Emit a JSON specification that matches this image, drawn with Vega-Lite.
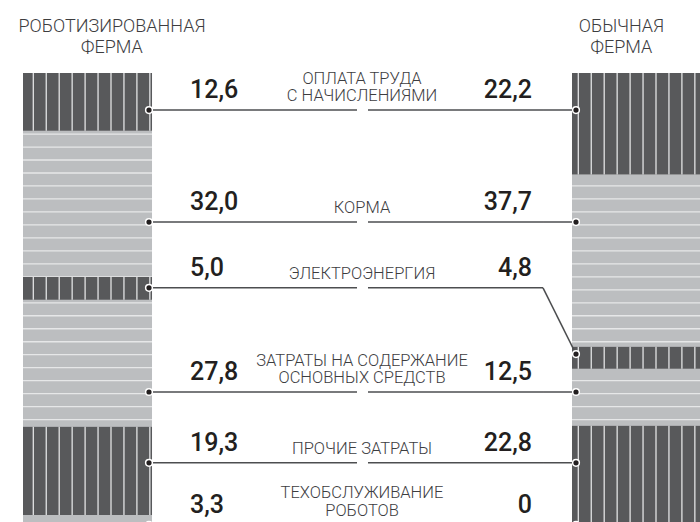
{
  "$schema": "https://vega.github.io/schema/vega-lite/v6.json",
  "width": 700,
  "height": 522,
  "padding": 0,
  "autosize": {"type": "none"},
  "background": "white",
  "config": {"view": {"stroke": null}, "font": "Roboto"},
  "data": {
    "values": [
      {"order": 1, "category": "Оплата труда с начислениями", "label": "ОПЛАТА ТРУДА\nС НАЧИСЛЕНИЯМИ", "Роботизированная ферма": 12.6, "Обычная ферма": 22.2, "level": 8.1, "levelRight": 8.1},
      {"order": 2, "category": "Корма", "label": "КОРМА", "Роботизированная ферма": 32.0, "Обычная ферма": 37.7, "level": 32.6, "levelRight": 32.6},
      {"order": 3, "category": "Электроэнергия", "label": "ЭЛЕКТРОЭНЕРГИЯ", "Роботизированная ферма": 5.0, "Обычная ферма": 4.8, "level": 47.0, "levelRight": 61.5},
      {"order": 4, "category": "Затраты на содержание основных средств", "label": "ЗАТРАТЫ НА СОДЕРЖАНИЕ\nОСНОВНЫХ СРЕДСТВ", "Роботизированная ферма": 27.8, "Обычная ферма": 12.5, "level": 69.8, "levelRight": 69.8},
      {"order": 5, "category": "Прочие затраты", "label": "ПРОЧИЕ ЗАТРАТЫ", "Роботизированная ферма": 19.3, "Обычная ферма": 22.8, "level": 85.3, "levelRight": 85.3},
      {"order": 6, "category": "Техобслуживание роботов", "label": "ТЕХОБСЛУЖИВАНИЕ\nРОБОТОВ", "Роботизированная ферма": 3.3, "Обычная ферма": 0, "level": 98.9, "levelRight": 98.9}
    ]
  },
  "layer": [
    {
      "transform": [
        {"fold": ["Роботизированная ферма", "Обычная ферма"], "as": ["farm", "value"]},
        {"stack": "value", "groupby": ["farm"], "sort": [{"field": "order", "order": "ascending"}], "as": ["y0", "y1"]},
        {"calculate": "datum.farm == 'Роботизированная ферма' ? 0 : 1", "as": "side"},
        {"calculate": "datum.side + 0.235", "as": "side2"}
      ],
      "mark": {"type": "bar", "fill": "#bcbec0"},
      "encoding": {
        "x": {"field": "side", "type": "quantitative", "scale": {"domain": [0, 1], "range": [23, 572], "zero": false, "nice": false}, "axis": null},
        "x2": {"field": "side2"},
        "y": {"field": "y0", "type": "quantitative", "scale": {"domain": [-16, 98.25], "reverse": true, "nice": false, "zero": false}, "axis": null},
        "y2": {"field": "y1"}
      }
    },
    {
      "transform": [
        {"fold": ["Роботизированная ферма", "Обычная ферма"], "as": ["farm", "value"]},
        {"aggregate": [{"op": "sum", "field": "value", "as": "total"}], "groupby": ["farm"]},
        {"calculate": "(datum.farm == 'Роботизированная ферма' ? 0 : 1) + 0.1175", "as": "center"},
        {"calculate": "0", "as": "start"}
      ],
      "mark": {"type": "rule", "stroke": "#e6e7e8", "strokeWidth": 129, "strokeDash": [1.3, 11.68], "strokeDashOffset": 4.6, "strokeCap": "butt"},
      "encoding": {
        "x": {"field": "center", "type": "quantitative"},
        "y": {"field": "start", "type": "quantitative"},
        "y2": {"field": "total"}
      }
    },
    {
      "transform": [
        {"fold": ["Роботизированная ферма", "Обычная ферма"], "as": ["farm", "value"]},
        {"stack": "value", "groupby": ["farm"], "sort": [{"field": "order", "order": "ascending"}], "as": ["y0", "y1"]},
        {"filter": "datum.order % 2 == 1"},
        {"calculate": "datum.farm == 'Роботизированная ферма' ? 0 : 1", "as": "side"},
        {"calculate": "datum.side + 0.235", "as": "side2"}
      ],
      "mark": {"type": "bar", "fill": "#58595b"},
      "encoding": {
        "x": {"field": "side", "type": "quantitative"},
        "x2": {"field": "side2"},
        "y": {"field": "y0", "type": "quantitative"},
        "y2": {"field": "y1"}
      }
    },
    {
      "transform": [
        {"fold": ["Роботизированная ферма", "Обычная ферма"], "as": ["farm", "value"]},
        {"stack": "value", "groupby": ["farm"], "sort": [{"field": "order", "order": "ascending"}], "as": ["y0", "y1"]},
        {"filter": "datum.order % 2 == 1 && datum.farm == 'Роботизированная ферма'"},
        {"calculate": "(datum.y0 + datum.y1) / 2", "as": "mid"},
        {"calculate": "0", "as": "side"},
        {"calculate": "datum.side + 0.235", "as": "side2"}
      ],
      "mark": {"type": "rule", "stroke": "#e2e3e4", "strokeDash": [1.3, 11.65], "strokeDashOffset": 3.3, "strokeCap": "butt"},
      "encoding": {
        "x": {"field": "side", "type": "quantitative"},
        "x2": {"field": "side2"},
        "y": {"field": "mid", "type": "quantitative"},
        "strokeWidth": {"field": "value", "type": "quantitative", "scale": {"domain": [0, 114.25], "range": [0, 522]}, "legend": null}
      }
    },
    {
      "transform": [
        {"fold": ["Роботизированная ферма", "Обычная ферма"], "as": ["farm", "value"]},
        {"stack": "value", "groupby": ["farm"], "sort": [{"field": "order", "order": "ascending"}], "as": ["y0", "y1"]},
        {"filter": "datum.order % 2 == 1 && datum.farm == 'Обычная ферма'"},
        {"calculate": "(datum.y0 + datum.y1) / 2", "as": "mid"},
        {"calculate": "1", "as": "side"},
        {"calculate": "datum.side + 0.235", "as": "side2"}
      ],
      "mark": {"type": "rule", "stroke": "#e2e3e4", "strokeDash": [1.3, 11.65], "strokeDashOffset": 7.3, "strokeCap": "butt"},
      "encoding": {
        "x": {"field": "side", "type": "quantitative"},
        "x2": {"field": "side2"},
        "y": {"field": "mid", "type": "quantitative"},
        "strokeWidth": {"field": "value", "type": "quantitative", "scale": {"domain": [0, 114.25], "range": [0, 522]}, "legend": null}
      }
    },
    {
      "mark": {"type": "rule", "stroke": "#4d4e50", "strokeWidth": 1.5},
      "encoding": {
        "x": {"datum": 0.2295, "type": "quantitative"},
        "x2": {"datum": 0.6084},
        "y": {"field": "level", "type": "quantitative"}
      }
    },
    {
      "mark": {"type": "rule", "stroke": "#4d4e50", "strokeWidth": 1.5},
      "encoding": {
        "x": {"datum": 0.6284, "type": "quantitative"},
        "x2": {"datum": 0.9472},
        "y": {"field": "level", "type": "quantitative"}
      }
    },
    {
      "mark": {"type": "rule", "stroke": "#4d4e50", "strokeWidth": 1.5},
      "encoding": {
        "x": {"datum": 0.9472, "type": "quantitative"},
        "x2": {"datum": 1.0073},
        "y": {"field": "level", "type": "quantitative"},
        "y2": {"field": "levelRight"}
      }
    },
    {
      "mark": {"type": "point", "filled": true, "fill": "#231f20", "stroke": "white", "strokeWidth": 1.5, "size": 45, "opacity": 1},
      "encoding": {
        "x": {"datum": 0.2295, "type": "quantitative"},
        "y": {"field": "level", "type": "quantitative"}
      }
    },
    {
      "mark": {"type": "point", "filled": true, "fill": "#231f20", "stroke": "white", "strokeWidth": 1.5, "size": 45, "opacity": 1},
      "encoding": {
        "x": {"datum": 1.0073, "type": "quantitative"},
        "y": {"field": "levelRight", "type": "quantitative"}
      }
    },
    {
      "transform": [
        {"calculate": "replace(format(datum['Роботизированная ферма'], '.1f'), '.', ',')", "as": "txt"}
      ],
      "mark": {"type": "text", "align": "left", "baseline": "alphabetic", "dy": -12, "fontSize": 25, "fontWeight": 500, "color": "#231f20"},
      "encoding": {
        "x": {"datum": 0.3042, "type": "quantitative"},
        "y": {"field": "level", "type": "quantitative"},
        "text": {"field": "txt"}
      }
    },
    {
      "transform": [
        {"calculate": "datum['Обычная ферма'] == 0 ? '0' : replace(format(datum['Обычная ферма'], '.1f'), '.', ',')", "as": "txt"}
      ],
      "mark": {"type": "text", "align": "right", "baseline": "alphabetic", "dy": -12, "fontSize": 25, "fontWeight": 500, "color": "#231f20"},
      "encoding": {
        "x": {"datum": 0.9271, "type": "quantitative"},
        "y": {"field": "level", "type": "quantitative"},
        "text": {"field": "txt"}
      }
    },
    {
      "transform": [
        {"calculate": "split(datum.label, '\\n')", "as": "lines"},
        {"calculate": "peek(datum.lines)", "as": "lastLine"}
      ],
      "mark": {"type": "text", "align": "center", "baseline": "alphabetic", "dy": -9, "fontSize": 16.5, "fontWeight": 300, "color": "#3d3d3f"},
      "encoding": {
        "x": {"datum": 0.6175, "type": "quantitative"},
        "y": {"field": "level", "type": "quantitative"},
        "text": {"field": "lastLine"}
      }
    },
    {
      "transform": [
        {"calculate": "split(datum.label, '\\n')", "as": "lines"},
        {"filter": "length(datum.lines) > 1"},
        {"calculate": "datum.lines[0]", "as": "firstLine"}
      ],
      "mark": {"type": "text", "align": "center", "baseline": "alphabetic", "dy": -26.5, "fontSize": 16.5, "fontWeight": 300, "color": "#3d3d3f"},
      "encoding": {
        "x": {"datum": 0.6175, "type": "quantitative"},
        "y": {"field": "level", "type": "quantitative"},
        "text": {"field": "firstLine"}
      }
    },
    {
      "transform": [
        {"filter": "datum.order == 1"},
        {"fold": ["Роботизированная ферма", "Обычная ферма"], "as": ["farm", "value"]},
        {"calculate": "upper(datum.farm)", "as": "header"},
        {"calculate": "datum.farm == 'Роботизированная ферма' ? 0.162 : 1.090", "as": "hx"},
        {"calculate": "-9", "as": "hy"}
      ],
      "mark": {"type": "text", "align": "center", "baseline": "alphabetic", "lineBreak": " ", "lineHeight": 21, "fontSize": 18, "fontWeight": 300, "color": "#3d3d3f"},
      "encoding": {
        "x": {"field": "hx", "type": "quantitative"},
        "y": {"field": "hy", "type": "quantitative"},
        "text": {"field": "header"}
      }
    }
  ]
}
